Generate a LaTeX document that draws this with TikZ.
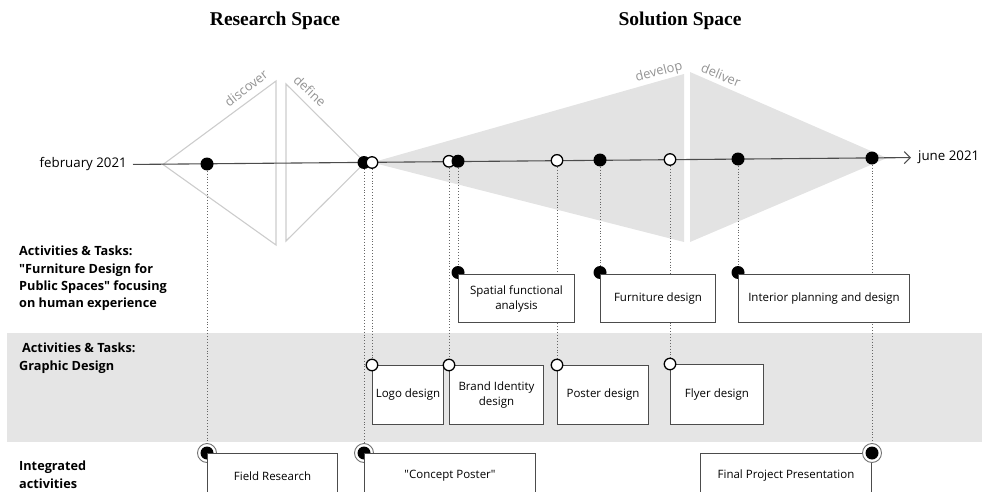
\documentclass[tikz,border=0pt]{standalone}
\usepackage{fontspec}
\setmainfont{Open Sans}
\newfontfamily\headfont{Liberation Serif}
\usetikzlibrary{arrows.meta}
\pgfdeclarelayer{bg}
\pgfdeclarelayer{lines}
\pgfsetlayers{bg,lines,main}
\tikzset{
  tri/.style={draw=black!20, line width=1.1pt, line join=miter},
  trifill/.style={fill=black!11},
  phase/.style={text=black!42, font=\fontsize{13}{14}\selectfont, inner sep=0},
  fdot/.style={circle, fill=black, inner sep=0, minimum size=13pt},
  odot/.style={circle, draw=black, line width=1.3pt, fill=white, inner sep=0, minimum size=11.5pt},
  ring/.style={circle, draw=black!55, fill=white, line width=0.9pt, inner sep=0, minimum size=19pt},
  task/.style={draw=black!70, line width=1pt, fill=white, align=center, font=\fontsize{11.5}{15}\selectfont, inner sep=0},
  conn/.style={dotted, draw=black!60, line width=0.9pt},
  rowlabel/.style={font=\bfseries\fontsize{12.7}{17.3}\selectfont, align=left, anchor=north west, inner sep=0},
  datelabel/.style={font=\fontsize{13.3}{14}\selectfont, inner sep=0pt},
  header/.style={font=\headfont\bfseries\fontsize{19.5}{21}\selectfont},
  timeline/.style={draw=black!70, line width=1.1pt},
}
\begin{document}
\begin{tikzpicture}[x=1pt, y=-1pt]
\useasboundingbox (0,0) rectangle (982,492);

% headers
\node[header] (rs) at (275,21) {Research Space};
\node[header] (ss) at (680,21) {Solution Space};

% background band and diamonds
\begin{pgfonlayer}{bg}
  \fill[black!10] (7,333) rectangle (982,442);
  \draw[tri] (163,164.5) -- (276,81) -- (276,245) -- cycle;
  \draw[tri] (286,84) -- (365,162.5) -- (286,241) -- cycle;
  \fill[trifill] (372,162.5) -- (684,74) -- (684,242) -- cycle;
  \fill[trifill] (690,72) -- (887,158) -- (690,242) -- cycle;
\end{pgfonlayer}

% phase labels
\node[phase, rotate=38] (ph1) at (246,88) {discover};
\node[phase, rotate=-43] (ph2) at (310,91) {define};
\node[phase, rotate=14] (ph3) at (659,72) {develop};
\node[phase, rotate=-22] (ph4) at (721,75) {deliver};

% timeline
\node[datelabel, anchor=east] (feb) at (127,164.5) {february 2021};
\node[datelabel, anchor=west] (jun) at (918,157.5) {june 2021};
\draw[timeline, shorten <=6pt, shorten >=7pt, -{Straight Barb[length=6pt, width=12pt]}] (feb.east) -- (jun.west);

\node[fdot] (t1) at (207,164) {};
\node[fdot] (t2) at (364,162.5) {};
\node[odot] (t3) at (372,162.5) {};
\node[odot] (t4) at (449,161.3) {};
\node[fdot] (t5) at (458,161.2) {};
\node[odot] (t6) at (557,160.4) {};
\node[fdot] (t7) at (600,160) {};
\node[odot] (t8) at (670,159.5) {};
\node[fdot] (t9) at (738,159) {};
\node[fdot] (t10) at (872,158) {};

% row labels
\node[rowlabel] (l1) at (19,246) {Activities \& Tasks:\\\textquotedbl Furniture Design for\\Public Spaces\textquotedbl{} focusing\\on human experience};
\node[rowlabel] (l2) at (19,343) {\hspace{3pt}Activities \& Tasks:\\Graphic Design};
\node[rowlabel] (l3) at (19,461) {Integrated\\activities};

% furniture row
\node[fdot] (sfaD) at (458,272.5) {};
\node[task, anchor=north west, minimum width=116pt, minimum height=48pt] (sfa) at (458,274) {Spatial functional\\analysis};
\node[fdot] (furD) at (600,272.5) {};
\node[task, anchor=north west, minimum width=115pt, minimum height=48pt] (fur) at (600,274) {Furniture design};
\node[fdot] (intD) at (738,272.5) {};
\node[task, anchor=north west, minimum width=171pt, minimum height=48pt] (int) at (738,274) {Interior planning and design};

% graphic row
\node[task, anchor=north west, minimum width=71pt, minimum height=59pt] (logo) at (372,365) {Logo design};
\node[odot] (logoD) at (logo.north west) {};
\node[task, anchor=north west, minimum width=94pt, minimum height=59pt] (brand) at (449,365) {Brand Identity\\design};
\node[odot] (brandD) at (brand.north west) {};
\node[task, anchor=north west, minimum width=91pt, minimum height=59pt] (poster) at (557,365) {Poster design};
\node[odot] (posterD) at (poster.north west) {};
\node[task, anchor=north west, minimum width=93pt, minimum height=60pt] (flyer) at (670,364) {Flyer design};
\node[odot] (flyerD) at (flyer.north west) {};

% integrated row
\node[ring] (fieldR) at (207,453) {};
\node[fdot] (fieldD) at (fieldR) {};
\node[task, anchor=north west, minimum width=130pt, minimum height=45pt] (field) at (fieldR.center) {Field Research};
\node[ring] (conR) at (364,453) {};
\node[fdot] (conD) at (conR) {};
\node[task, anchor=north west, minimum width=171pt, minimum height=45pt] (con) at (conR.center) {\textquotedbl Concept Poster\textquotedbl};
\node[task, anchor=north east, minimum width=171pt, minimum height=45pt] (fin) at (872,453) {Final Project Presentation};
\node[ring] (finR) at (fin.north east) {};
\node[fdot] (finD) at (finR) {};

% dotted connectors
\begin{pgfonlayer}{lines}
  \draw[conn] (t1) -- (fieldR);
  \draw[conn] (t2) -- (conR);
  \draw[conn] (t3) -- (logoD);
  \draw[conn] (t4) -- (brandD);
  \draw[conn] (t5) -- (sfaD);
  \draw[conn] (t6) -- (posterD);
  \draw[conn] (t7) -- (furD);
  \draw[conn] (t8) -- (flyerD);
  \draw[conn] (t9) -- (intD);
  \draw[conn] (t10) -- (finR);
\end{pgfonlayer}
\end{tikzpicture}
\end{document}
